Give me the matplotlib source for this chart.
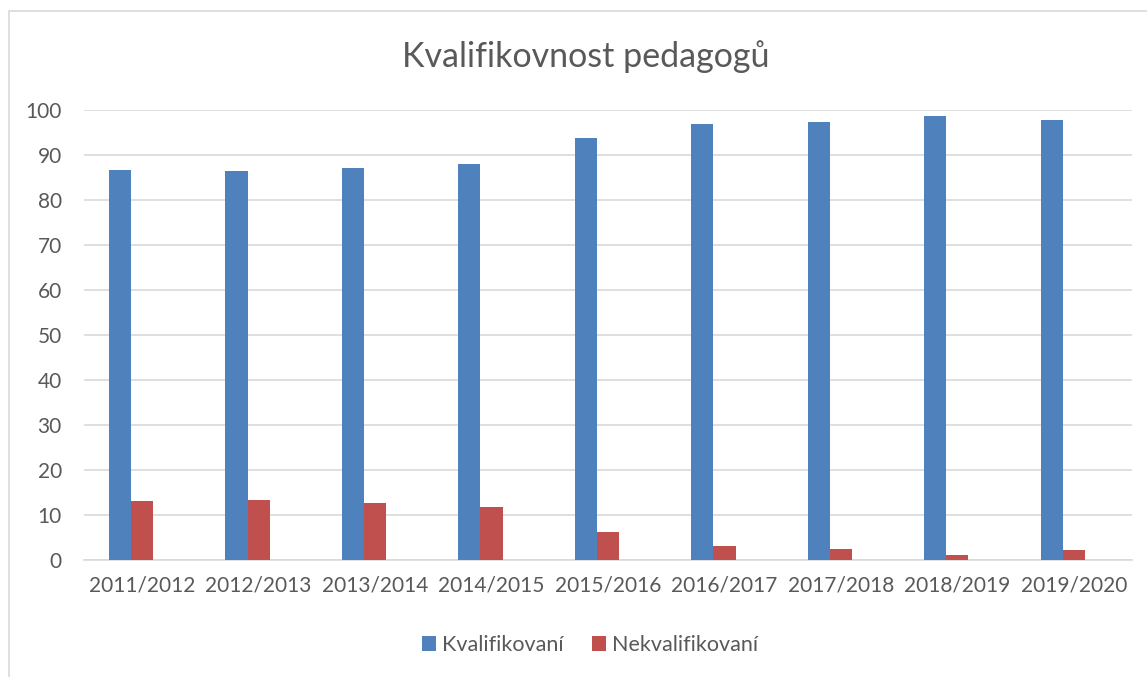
import numpy as np
import matplotlib
matplotlib.use('Agg')
import matplotlib.pyplot as plt
from matplotlib.patches import Rectangle

plt.rcParams['font.family'] = ['Lato', 'DejaVu Sans']

years = ['2011/2012', '2012/2013', '2013/2014', '2014/2015', '2015/2016',
         '2016/2017', '2017/2018', '2018/2019', '2019/2020']
kvalifikovani = [86.7, 86.4, 87.1, 88.1, 93.7, 96.8, 97.3, 98.7, 97.7]
nekvalifikovani = [13.2, 13.4, 12.7, 11.8, 6.2, 3.1, 2.5, 1.1, 2.2]

blue = '#4F81BD'
red = '#C0504D'
text_col = '#595959'
grid_col = '#d9d9d9'

W, H = 1147, 677
fig = plt.figure(figsize=(W / 100, H / 100), dpi=100)

# chart border (light gray frame like Excel)
fig.patches.append(Rectangle((9 / W, -0.01), 1.0, 1 - 11 / H + 0.01,
                             transform=fig.transFigure, fill=False,
                             edgecolor=grid_col, linewidth=1.2))

ax = fig.add_axes([84 / W, 1 - 560 / H, (1132 - 84) / W, (560 - 110) / H])

x = np.arange(len(years))
w = 0.19
ax.bar(x - w, kvalifikovani, w, color=blue, label='Kvalifikovaní', zorder=3)
ax.bar(x, nekvalifikovani, w, color=red, label='Nekvalifikovaní', zorder=3)

ax.set_xlim(-0.5, len(years) - 0.5)
ax.set_ylim(0, 100)
ax.set_yticks(range(0, 101, 10))
ax.set_xticks(x)
ax.set_xticklabels(years)
ax.yaxis.grid(True, color=grid_col, linewidth=1.2, zorder=0)
for s in ['top', 'right', 'left']:
    ax.spines[s].set_visible(False)
ax.spines['bottom'].set_color(grid_col)
ax.spines['bottom'].set_linewidth(1.2)
ax.tick_params(axis='both', length=0, labelsize=15, colors=text_col)
ax.tick_params(axis='x', pad=11)
ax.tick_params(axis='y', pad=16)

fig.text(586 / W, 1 - 57 / H, 'Kvalifikovnost pedagogů', ha='center', va='center',
         fontsize=24.5, color=text_col)

leg = fig.legend(loc='center', bbox_to_anchor=(590 / W, 1 - 645 / H), ncol=2,
                 frameon=False, fontsize=15.5, handlelength=0.65, handleheight=0.65,
                 handletextpad=0.25, columnspacing=1.35)
for t in leg.get_texts():
    t.set_color(text_col)

fig.savefig('out.png', dpi=100)
